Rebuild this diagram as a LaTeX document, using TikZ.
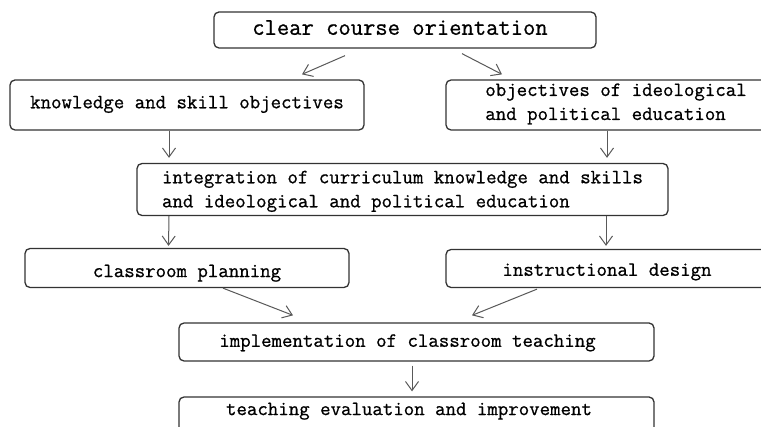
\documentclass[tikz,border=0pt]{standalone}
\usepackage{fontspec}
\newfontfamily\diamono[FakeBold=0.8]{Latin Modern Mono}
\usetikzlibrary{arrows.meta}
\newcommand\shiftlines[2]{\raisebox{#1}[\height][\depth]{\begin{tabular}{@{}l@{}}#2\end{tabular}}}
\begin{document}
\begin{tikzpicture}[x=1pt,y=-1pt,
  box/.style={draw=black!80, line width=1.3pt, rounded corners=5pt, inner sep=0pt,
    font=\diamono\fontsize{20.3}{24}\selectfont, text=black},
  arr/.style={draw=black!65, line width=1pt, -{Straight Barb[length=9pt,width=13pt]}}]
\useasboundingbox[fill=white] (0,0) rectangle (761,427);

\node[box, font=\diamono\fontsize{23.9}{24}\selectfont, minimum width=382pt, minimum height=36pt] (top) at (405,30) {\shiftlines{0pt}{clear course orientation\hspace*{10pt}}};
\node[box, minimum width=354pt, minimum height=50pt] (kso) at (187,105) {\shiftlines{1.5pt}{knowledge and skill objectives}};
\node[box, minimum width=340pt, minimum height=50pt] (oipe) at (616,105) {\shiftlines{1.8pt}{objectives of ideological\\and political education}};
\node[box, minimum width=531pt, minimum height=52pt] (integ) at (402.5,189.5) {\shiftlines{-1pt}{integration of curriculum knowledge and skills\\and ideological and political education}};
\node[box, minimum width=324pt, minimum height=39pt] (cp) at (187,268) {\shiftlines{-4.3pt}{classroom planning}};
\node[box, minimum width=322pt, minimum height=38pt] (id) at (607,268.5) {\shiftlines{-2.5pt}{instructional design}};
\node[box, minimum width=475pt, minimum height=38pt] (impl) at (416.5,342) {\shiftlines{0pt}{implementation of classroom teaching\hspace*{18pt}}};
\node[box, minimum width=475pt, minimum height=40pt] (te) at (416.5,417) {\shiftlines{6.7pt}{teaching evaluation and improvement\hspace*{15pt}}};

\draw[arr] ([shift={(-60,7)}]top.south) -- ([shift={(115,-5)}]kso.north);
\draw[arr] ([shift={(57,5)}]top.south) -- ([shift={(-114,-5)}]oipe.north);
\draw[arr] ([shift={(-18,0)}]kso.south) -- ([shift={(-233.5,-5)}]integ.north);
\draw[arr] ([shift={(-9,0)}]oipe.south) -- ([shift={(204.5,-5)}]integ.north);
\draw[arr] ([shift={(-233.5,0)}]integ.south) -- ([shift={(-18.5,-2)}]cp.north);
\draw[arr] ([shift={(203.5,0)}]integ.south) -- ([shift={(-1,-3)}]id.north);
\draw[arr] ([shift={(36,0)}]cp.south) -- ([shift={(-123.5,-7)}]impl.north);
\draw[arr] ([shift={(-70,1)}]id.south) -- ([shift={(55.5,-7)}]impl.north);
\draw[arr] ([shift={(-4.5,4)}]impl.south) -- ([shift={(-4.5,-5)}]te.north);
\end{tikzpicture}
\end{document}
